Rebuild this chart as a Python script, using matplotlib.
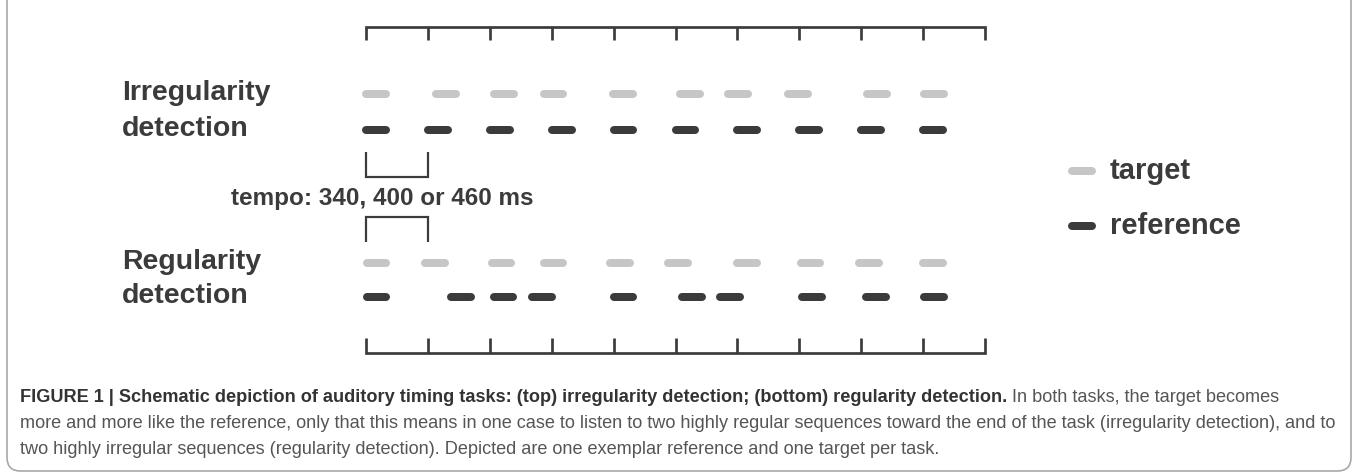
"""
Schematic of the two auditory timing tasks (irregularity / regularity detection).
Onsets are given in beats, one beat being one interval of the ruler.
"""

import matplotlib
matplotlib.use("Agg")
import matplotlib.pyplot as plt
from matplotlib.patches import FancyBboxPatch

# Figure size in pixels.
W, H = 1358, 474
DPI = 100

# Ruler ticks and tone onsets (beats).
RULER_TICKS = list(range(11))
IRREG_TARGET = [0, 1.13, 2.07, 2.87, 3.99, 5.08, 5.85, 6.82, 8.09, 9.02]
IRREG_REFERENCE = [0, 1, 2, 3, 4, 5, 6, 7, 8, 9]
REG_TARGET = [0.01, 0.96, 2.03, 2.87, 3.94, 4.88, 6.0, 7.02, 7.96, 9.0]
REG_REFERENCE = [0.01, 1.37, 2.06, 2.68, 4.0, 5.11, 5.72, 7.04, 8.08, 9.02]
TEMPO_SPAN = [0, 1]

TASK_LABELS = [["Irregularity", "detection"], ["Regularity", "detection"]]
LEGEND_LABELS = ["target", "reference"]
TEMPO_TEXT = "tempo: 340, 400 or 460 ms"

CAPTION_BOLD = ("FIGURE 1 | Schematic depiction of auditory timing tasks: "
                "(top) irregularity detection; (bottom) regularity detection.")
CAPTION_LINES = [
    " In both tasks, the target becomes",
    "more and more like the reference, only that this means in one case to listen "
    "to two highly regular sequences toward the end of the task (irregularity detection), and to",
    "two highly irregular sequences (regularity detection). Depicted are one exemplar "
    "reference and one target per task.",
]

# Styles.
DARK = "#3b3b3b"
LIGHT = "#c6c6c6"
X0, BEAT = 366, 61.9          # pixel of beat 0, pixels per beat
DASH = 0.32                   # dash length in beats (plus round caps)
DASH_LW = 8 * 72 / DPI
LABEL_FONT = ["Liberation Sans", "DejaVu Sans"]
CAPTION_FONT = ["Liberation Sans Narrow", "Liberation Sans", "DejaVu Sans"]
CAPTION_SIZE = 13.05


def px(x, y):
    """Pixel position (y from top) to figure fraction."""
    return x / W, 1 - y / H


def dashes(ax, onsets, y, color):
    """Draw one row of tones as rounded dashes."""
    for b in onsets:
        ax.plot([b, b + DASH], [y, y], color=color, lw=DASH_LW,
                solid_capstyle="round")


def ruler(ax, ticks, y, length):
    """Draw a ruler line with ticks pointing away from the rows."""
    lw = 2.7 * 72 / DPI
    ax.plot([ticks[0], ticks[0], ticks[-1], ticks[-1]],
            [y + length, y, y, y + length], color=DARK, lw=lw,
            solid_joinstyle="miter", solid_capstyle="butt")
    ax.vlines(ticks[1:-1], y, y + length, color=DARK, lw=lw)


def bracket(ax, span, y, length):
    ax.plot([span[0], span[0], span[1], span[1]],
            [y + length, y, y, y + length], color=DARK, lw=2.2 * 72 / DPI,
            solid_joinstyle="miter", solid_capstyle="butt")


def main():
    fig = plt.figure(figsize=(W / DPI, H / DPI), dpi=DPI)
    ax = fig.add_axes([0, 0, 1, 1])
    ax.set_xlim(-X0 / BEAT, (W - X0) / BEAT)
    ax.set_ylim(H, 0)
    ax.axis("off")

    rows = {"irreg": (94, 130), "reg": (263, 297)}

    # Rulers.
    ruler(ax, RULER_TICKS, 27, 13)
    ruler(ax, RULER_TICKS, 353, -15)

    # Tone rows.
    dashes(ax, IRREG_TARGET, rows["irreg"][0], LIGHT)
    dashes(ax, IRREG_REFERENCE, rows["irreg"][1], DARK)
    dashes(ax, REG_TARGET, rows["reg"][0], LIGHT)
    dashes(ax, REG_REFERENCE, rows["reg"][1], DARK)

    # Tempo brackets.
    bracket(ax, TEMPO_SPAN, 177, -25)
    bracket(ax, TEMPO_SPAN, 217, 25)
    fig.text(*px(382, 198), TEMPO_TEXT, ha="center", va="center",
             fontsize=17.5, fontweight="bold", color=DARK, family=LABEL_FONT)

    # Task labels, one line beside each row.
    for lines, ys in zip(TASK_LABELS, rows.values()):
        for text, y in zip(lines, ys):
            fig.text(*px(122, y - 1), text, ha="left", va="center",
                     fontsize=20.5, fontweight="bold", color=DARK,
                     family=LABEL_FONT)

    # Legend.
    for label, color, y in zip(LEGEND_LABELS, [LIGHT, DARK], [171, 226]):
        ax.plot([(1072 - X0) / BEAT, (1092 - X0) / BEAT], [y, y], color=color,
                lw=DASH_LW, solid_capstyle="round")
        fig.text(*px(1110, y), label, ha="left", va="center", fontsize=21,
                 fontweight="bold", color=DARK, family=LABEL_FONT)

    # Caption: bold lead then regular text on the same line.
    y0, step = 397, 26.5
    t1 = fig.text(*px(20, y0), CAPTION_BOLD, ha="left", va="center",
                  fontsize=CAPTION_SIZE, fontweight="bold", color="#333333",
                  family=CAPTION_FONT)
    r = fig.canvas.get_renderer()
    x_end = t1.get_window_extent(r).x1
    fig.text(*px(x_end, y0), CAPTION_LINES[0], ha="left", va="center",
             fontsize=CAPTION_SIZE, color="#555555", family=CAPTION_FONT)
    for i, line in enumerate(CAPTION_LINES[1:], start=1):
        fig.text(*px(20, y0 + i * step), line, ha="left", va="center",
                 fontsize=CAPTION_SIZE, color="#555555", family=CAPTION_FONT)

    # Frame round the whole figure.
    frame = FancyBboxPatch(px(7, 471), (W - 14) / W, 490 / H,
                           boxstyle="round,pad=0,rounding_size=0.01",
                           transform=fig.transFigure, fill=False,
                           edgecolor="#a8a8a8", lw=1.2, mutation_aspect=W / H)
    fig.patches.append(frame)

    fig.savefig("out.png", dpi=DPI)


if __name__ == "__main__":
    main()
